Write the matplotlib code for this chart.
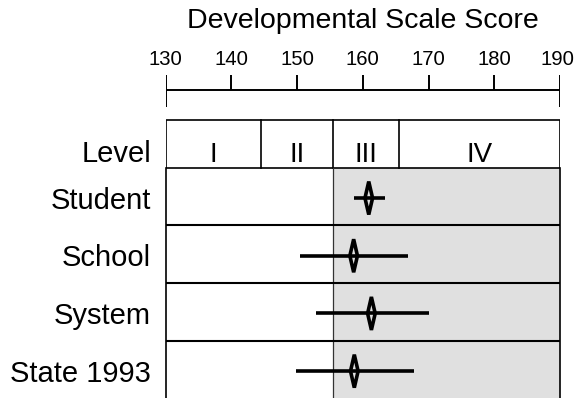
import matplotlib
matplotlib.use("Agg")
import matplotlib.pyplot as plt
from matplotlib.patches import Polygon, Rectangle

plt.rcParams['font.family'] = ['Liberation Sans', 'DejaVu Sans']

# ---- data ----
title = "Developmental Scale Score"
tick_values = [130, 140, 150, 160, 170, 180, 190]
level_names = ["I", "II", "III", "IV"]
level_bounds = [130, 144.5, 155.4, 165.5, 190]
categories = ["Student", "School", "System", "State 1993"]
scores = [160.9, 158.6, 161.3, 158.7]
low = [158.7, 150.4, 152.8, 149.8]
high = [163.3, 166.8, 170.0, 167.8]
shade_from = 155.4

# ---- layout (pixel units on y) ----
W, H = 575, 398
fig = plt.figure(figsize=(W / 100, H / 100), dpi=100)
x_left_px, x_right_px = 165.7, 560.0
ax = fig.add_axes([x_left_px / W, 0, (x_right_px - x_left_px) / W, 1])
xmin, xmax = tick_values[0], tick_values[-1]
ax.set_xlim(xmin, xmax)
ax.set_ylim(H, 0)
ax.axis('off')

px_per_unit = (x_right_px - x_left_px) / (xmax - xmin)

axis_y, tick_top, end_tick_bot = 90, 75, 107
level_top, level_bot = 120, 167.7
row_h = 57.7
def row_top(i):
    return level_bot + row_h * i
def row_center(i):
    return row_top(i) + row_h / 2 + 1.5

lw_box = 1.2
# title and scale
ax.text((xmin + xmax) / 2, 28, title, ha='center', va='baseline', fontsize=20.5)
ax.plot([xmin, xmax], [axis_y, axis_y], color='black', lw=1.4, solid_capstyle='butt')
for t in tick_values:
    bot = end_tick_bot if t in (xmin, xmax) else axis_y
    ax.plot([t, t], [tick_top, bot], color='black', lw=1.4, solid_capstyle='butt')
    shift = -1.8 if t == xmax else 0
    ax.annotate(str(t), xy=(t, 65), xytext=(shift, 0), textcoords='offset points',
                ha='center', va='baseline', fontsize=14.6, annotation_clip=False)

# level row
ax.add_patch(Rectangle((xmin, level_top), xmax - xmin, level_bot - level_top,
                       fill=False, ec='black', lw=lw_box))
for b in level_bounds[1:-1]:
    ax.plot([b, b], [level_top, level_bot], color='black', lw=lw_box)
level_base = 161.5
for name, a, b in zip(level_names, level_bounds[:-1], level_bounds[1:]):
    ax.text((a + b) / 2, level_base, name, ha='center', va='baseline', fontsize=20)

def left_label(y, s):
    ax.annotate(s, xy=(xmin, y), xytext=(-10.5, 0), textcoords='offset points',
                ha='right', va='baseline', fontsize=21, annotation_clip=False)

left_label(level_base, "Level")

# data rows
bottom = H + 5
ax.add_patch(Rectangle((shade_from, level_bot), xmax - shade_from, bottom - level_bot,
                       fc='#e0e0e0', ec='none', zorder=0))
ax.plot([xmin, xmin], [level_bot, bottom], color='black', lw=lw_box, clip_on=False)
ax.plot([xmax, xmax], [level_bot, bottom], color='black', lw=lw_box, clip_on=False)
ax.plot([shade_from, shade_from], [level_bot, bottom], color='#333333', lw=0.9)
for i in range(1, len(categories)):
    ax.plot([xmin, xmax], [row_top(i), row_top(i)], color='black', lw=lw_box + 0.3)

dx = 3.8 / px_per_unit
dy = 16.5
for i, (cat, s, lo, hi) in enumerate(zip(categories, scores, low, high)):
    yc = row_center(i)
    left_label(yc + 10.5, cat)
    ax.plot([lo, hi], [yc, yc], color='black', lw=2.6, solid_capstyle='butt', zorder=3)
    ax.add_patch(Polygon([(s, yc - dy), (s + dx, yc), (s, yc + dy), (s - dx, yc)],
                         closed=True, fill=False, ec='black', lw=2.6, zorder=4,
                         joinstyle='miter'))

fig.savefig("out.png", dpi=100)
